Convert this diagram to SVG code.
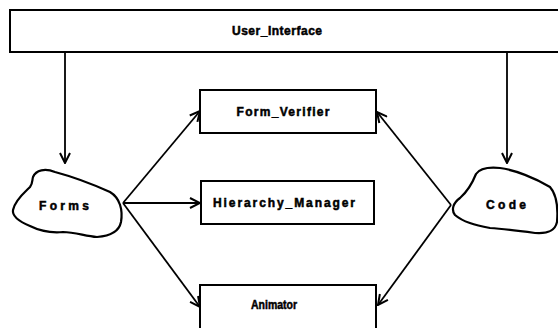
<svg xmlns="http://www.w3.org/2000/svg" width="558" height="328" viewBox="0 0 558 328">
<style>
.box{fill:#fff;stroke:#000;stroke-width:2}
.blob{fill:#fff;stroke:#000;stroke-width:2.2;stroke-linejoin:round}
.lbl{font-family:"Liberation Sans",Arial,sans-serif;font-weight:bold;font-size:12px;fill:#000;stroke:#000;stroke-width:0.5;text-anchor:middle}
.edge{stroke:#000;stroke-width:1.8;fill:none}
</style>
<defs>
<marker id="arr" viewBox="0 0 12 12" refX="11" refY="6" markerWidth="12" markerHeight="12" markerUnits="userSpaceOnUse" orient="auto">
<path d="M1,1 L11,6 L1,11" fill="none" stroke="#000" stroke-width="2"/>
</marker>
</defs>
<rect width="558" height="328" fill="#fff"/>
<g id="User_Interface">
<rect class="box" x="10" y="10" width="560" height="42"/>
<text class="lbl" x="277" y="35" textLength="90" lengthAdjust="spacing">User_Interface</text>
</g>
<g id="Form_Verifier">
<rect class="box" x="200" y="90" width="176" height="43"/>
<text class="lbl" x="283" y="116" textLength="93" lengthAdjust="spacing">Form_Verifier</text>
</g>
<g id="Hierarchy_Manager">
<rect class="box" x="201" y="181" width="173" height="43"/>
<text class="lbl" x="284" y="207" textLength="142" lengthAdjust="spacing">Hierarchy_Manager</text>
</g>
<g id="Animator">
<rect class="box" x="200" y="285" width="176" height="60"/>
<text class="lbl" x="274" y="309" textLength="46" lengthAdjust="spacingAndGlyphs">Animator</text>
</g>
<g id="Forms">
<path class="blob" d="M33,177 C36,170 45,168 55,172 C70,176 90,183 110,192 C120,198 123,210 121,222 C119,232 110,236 97,237 C85,236 75,232 63,232 C52,233 40,231 30,226 C18,221 12,216 13,210 C15,200 25,192 30,187 C33,183 32,180 33,177 Z"/>
<text class="lbl" x="64" y="210" textLength="50" lengthAdjust="spacing">Forms</text>
</g>
<g id="Code">
<path class="blob" d="M476,174 C480,168 490,167 500,168 C515,170 535,178 550,187 C557,195 558,210 557,222 C555,231 548,234 535,233 C520,231 505,229 490,228 C475,225 463,222 455,215 C451,210 453,203 460,198 C468,191 472,184 476,174 Z"/>
<text class="lbl" x="506" y="209" textLength="40" lengthAdjust="spacing">Code</text>
</g>
<g id="connectors">
<line class="edge" x1="65" y1="52" x2="65" y2="163" marker-end="url(#arr)"/>
<line class="edge" x1="507" y1="52" x2="507" y2="163" marker-end="url(#arr)"/>
<line class="edge" x1="123" y1="203" x2="200" y2="111" marker-end="url(#arr)"/>
<line class="edge" x1="123" y1="203" x2="200" y2="203" marker-end="url(#arr)"/>
<line class="edge" x1="123" y1="203" x2="200" y2="307" marker-end="url(#arr)"/>
<line class="edge" x1="451" y1="205" x2="377" y2="112" marker-end="url(#arr)"/>
<line class="edge" x1="451" y1="205" x2="378" y2="305" marker-end="url(#arr)"/>
</g>
</svg>
